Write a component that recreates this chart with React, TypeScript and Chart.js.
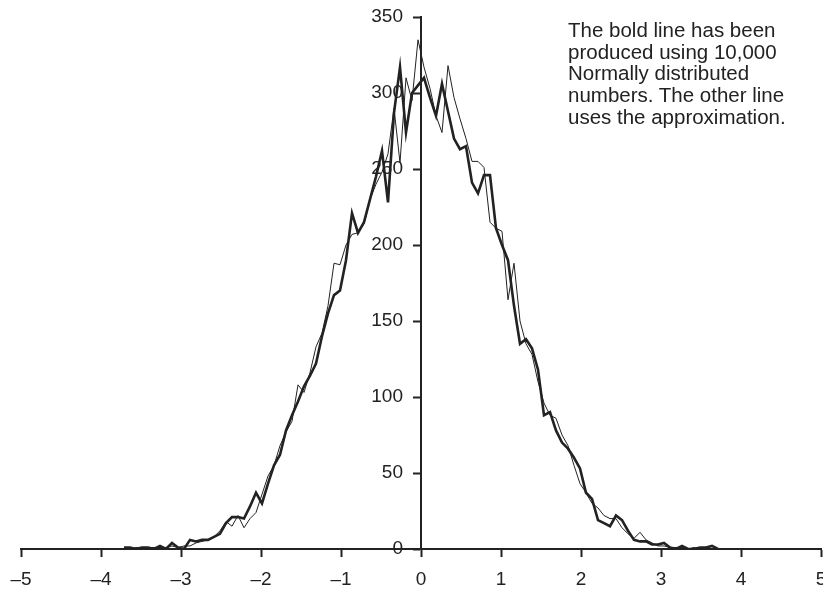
import React, { useEffect, useRef } from 'react';
import { Chart, registerables } from 'chart.js';

Chart.register(...registerables);

// bin centres (width 0.075)
const binCenters = [
  -3.7125, -3.6375, -3.5625, -3.4875, -3.4125, -3.3375, -3.2625, -3.1875, -3.1125, -3.0375,
  -2.9625, -2.8875, -2.8125, -2.7375, -2.6625, -2.5875, -2.5125, -2.4375, -2.3625, -2.2875,
  -2.2125, -2.1375, -2.0625, -1.9875, -1.9125, -1.8375, -1.7625, -1.6875, -1.6125, -1.5375,
  -1.4625, -1.3875, -1.3125, -1.2375, -1.1625, -1.0875, -1.0125, -0.9375, -0.8625, -0.7875,
  -0.7125, -0.6375, -0.5625, -0.4875, -0.4125, -0.3375, -0.2625, -0.1875, -0.1125, -0.0375,
  0.0375, 0.1125, 0.1875, 0.2625, 0.3375, 0.4125, 0.4875, 0.5625, 0.6375, 0.7125,
  0.7875, 0.8625, 0.9375, 1.0125, 1.0875, 1.1625, 1.2375, 1.3125, 1.3875, 1.4625,
  1.5375, 1.6125, 1.6875, 1.7625, 1.8375, 1.9125, 1.9875, 2.0625, 2.1375, 2.2125,
  2.2875, 2.3625, 2.4375, 2.5125, 2.5875, 2.6625, 2.7375, 2.8125, 2.8875, 2.9625,
  3.0375, 3.1125, 3.1875, 3.2625, 3.3375, 3.4125, 3.4875, 3.5625, 3.6375, 3.7125,
];

// bold line: 10,000 Normally distributed numbers
const normalCounts = [
  1, 1, 0, 1, 1, 0, 2, 0, 4, 1,
  0, 6, 5, 6, 6, 8, 10, 17, 21, 21,
  20, 28, 37, 30, 43, 55, 62, 78, 88, 97,
  107, 114, 122, 140, 155, 167, 170, 190, 221, 208,
  215, 230, 245, 262, 228, 287, 317, 274, 300, 305,
  310, 297, 285, 306, 288, 270, 263, 265, 241, 234,
  246, 246, 211, 200, 190, 160, 135, 138, 132, 118,
  88, 90, 78, 70, 66, 60, 53, 37, 33, 19,
  17, 15, 22, 19, 12, 6, 5, 5, 3, 3,
  4, 1, 0, 2, 0, 0, 1, 1, 2, 0,
];

// thin line: the approximation
const approxCounts = [
  0, 0, 1, 1, 1, 1, 1, 1, 2, 1,
  2, 2, 4, 5, 6, 8, 12, 18, 15, 22,
  14, 20, 24, 36, 48, 55, 68, 77, 84, 108,
  103, 116, 133, 142, 160, 188, 187, 200, 207, 208,
  214, 230, 240, 248, 260, 290, 254, 310, 295, 335,
  317, 303, 285, 274, 318, 297, 283, 270, 255, 255,
  251, 215, 211, 209, 164, 188, 150, 135, 128, 110,
  96, 88, 86, 75, 68, 55, 43, 37, 30, 27,
  22, 20, 20, 14, 10, 7, 11, 6, 4, 2,
  2, 1, 1, 1, 0, 1, 0, 0, 0, 0,
];

const noteLines = [
  'The bold line has been',
  'produced using 10,000',
  'Normally distributed',
  'numbers. The other line',
  'uses the approximation.',
];

const INK = '#222222';
const FONT = '"Liberation Sans", Arial, Helvetica, sans-serif';
const Y_TICK_LEN = 7;
const Y_LABEL_PAD = 11;

// Chart.js places labels of a value-positioned y axis right on the axis line;
// move them left of the tick marks, as with an ordinary left axis.
const shiftYLabels = {
  id: 'shiftYLabels',
  beforeDraw(chart: any) {
    const s = chart.scales.y;
    if (!s) return;
    const items = s.getLabelItems();
    if ((items as any).__shifted) return;
    items.forEach((it: any) => {
      const t = it.options.translation;
      it.options.translation = [t[0] - (Y_TICK_LEN + Y_LABEL_PAD), t[1]];
    });
    (items as any).__shifted = true;
  },
};

export default function App() {
  const ref = useRef<HTMLCanvasElement>(null);

  useEffect(() => {
    const canvas = ref.current;
    if (!canvas) return;
    const zeroPad = (s: any) => {
      s.paddingLeft = 0;
      s.paddingRight = 0;
      s.paddingTop = 0;
      s.paddingBottom = 0;
    };
    const toPoints = (vals: number[]) => vals.map((v, i) => ({ x: binCenters[i], y: v }));
    const fmt = (v: any) => {
      const n = Number(v);
      return n < 0 ? '\u2013' + Math.abs(n) : String(n);
    };
    const gridOpts = {
      drawOnChartArea: false,
      drawTicks: true,
      tickLength: Y_TICK_LEN,
      tickWidth: 2,
      tickColor: INK,
    };
    const chart = new Chart(canvas, {
      type: 'scatter',
      data: {
        datasets: [
          {
            data: toPoints(approxCounts),
            showLine: true,
            borderColor: INK,
            borderWidth: 1,
            pointRadius: 0,
            tension: 0,
          },
          {
            data: toPoints(normalCounts),
            showLine: true,
            borderColor: INK,
            borderWidth: 2.6,
            pointRadius: 0,
            tension: 0,
          },
        ],
      },
      options: {
        responsive: false,
        animation: false,
        devicePixelRatio: 1,
        layout: { padding: { left: 21, right: 2, top: 17, bottom: 43 } },
        plugins: { legend: { display: false }, tooltip: { enabled: false } },
        scales: {
          x: {
            type: 'linear',
            min: -5,
            max: 5,
            position: { y: 0 },
            afterFit: zeroPad,
            ticks: {
              stepSize: 1,
              callback: fmt,
              color: INK,
              font: { family: FONT, size: 19 },
              padding: 12,
              maxRotation: 0,
              autoSkip: false,
            },
            grid: gridOpts,
            border: { display: true, color: INK, width: 2 },
          },
          y: {
            type: 'linear',
            min: 0,
            max: 350,
            position: { x: 0 },
            afterFit: zeroPad,
            ticks: {
              stepSize: 50,
              color: INK,
              font: { family: FONT, size: 19 },
              padding: Y_LABEL_PAD,
            },
            grid: gridOpts,
            border: { display: true, color: INK, width: 2 },
          },
        },
      },
      plugins: [shiftYLabels],
    } as any);
    return () => chart.destroy();
  }, []);

  return (
    <div
      style={{
        position: 'fixed',
        left: 0,
        top: 0,
        width: 823,
        height: 592,
        overflow: 'hidden',
        background: '#ffffff',
      }}
    >
      <canvas ref={ref} width={823} height={592} style={{ display: 'block' }} />
      <div
        style={{
          position: 'absolute',
          left: 568,
          top: 19,
          fontFamily: FONT,
          fontSize: '20.5px',
          lineHeight: '21.7px',
          color: INK,
          whiteSpace: 'nowrap',
        }}
      >
        {noteLines.map((l) => (
          <div key={l}>{l}</div>
        ))}
      </div>
    </div>
  );
}
